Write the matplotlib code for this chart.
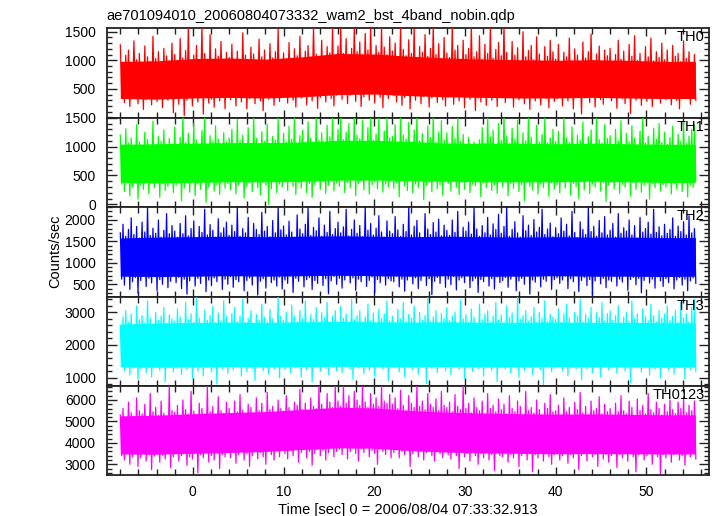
import numpy as np
import matplotlib
matplotlib.use("Agg")
import matplotlib.pyplot as plt
from matplotlib.ticker import MultipleLocator, FixedLocator

plt.rcParams['font.family'] = ['Liberation Sans', 'DejaVu Sans']

title = "ae701094010_20060804073332_wam2_bst_4band_nobin.qdp"
xlabel = "Time [sec] 0 = 2006/08/04 07:33:32.913"
ylabel = "Counts/sec"
band_names = ["TH0", "TH1", "TH2", "TH3", "TH0123"]
band_colors = ["#ff0000", "#00ff00", "#0000ff", "#00ffff", "#ff00ff"]

# each 0.3 s bin: a local maximum (peak) then a local minimum (dip), from t = -8 s
t_start, t_step = -8.0, 0.3
core_t = [-8, -4, 0, 4, 8, 12, 16, 20, 24, 28, 32, 36, 40, 44, 48, 52, 55.4]

# ---------------- TH0 ----------------
th0_peak = [
    1270, 960, 1090, 1180, 920, 1340, 1010, 1120, 940, 1250, 1060, 980, 1420, 1030, 1150, 900, 1210, 1080, 990, 1300,
    1100, 950, 1380, 1040, 1170, 1600, 990, 1090, 1260, 930, 1600, 1120, 1020, 1450, 980, 1200, 1070, 1330, 960, 1140,
    1050, 1280, 970, 1160, 1010, 1480, 1090, 940, 1230, 1110, 1000, 1370, 1060, 1180, 920, 1290, 1040, 1150, 1550, 990,
    1130, 1020, 1310, 960, 1200, 1080, 1420, 1000, 1160, 1260, 1050, 1600, 1110, 990, 1350, 1070, 1240, 1130, 1600, 1040,
    1250, 1600, 1120, 1380, 1060, 1210, 1600, 1150, 1320, 1090, 1470, 1180, 1600, 1040, 1260, 1140, 1600, 1230, 1100, 1410,
    1160, 1300, 1050, 1600, 1190, 1080, 1360, 1120, 1600, 1010, 1240, 1140, 1450, 1070, 1210, 1600, 1100, 1290, 1030, 1400,
    1130, 1050, 1600, 1180, 1260, 990, 1350, 1100, 1210, 1600, 1060, 1150, 1430, 1020, 1280, 1120, 1600, 1040, 1190, 1310,
    1080, 1600, 1140, 1000, 1330, 1090, 1220, 970, 1500, 1060, 1170, 1260, 1010, 1410, 1110, 980, 1240, 1070, 1350, 1150,
    1020, 1280, 960, 1140, 1060, 1390, 990, 1200, 1090, 940, 1320, 1040, 1150, 1460, 1000, 1110, 1250, 970, 1180, 1080,
    1210, 980, 1100, 1350, 1020, 1160, 940, 1280, 1070, 1430, 1000, 1120, 960, 1240, 1060, 1390, 990, 1150, 1050, 1300,
    1010, 1180, 940, 1260, 1070, 1120, 980, 1340, 1030, 1150, 960, 1100]
th0_dip = [
    380, 260, 420, 190, 330, 450, 240, 370, 140, 310, 400, 220, 350, 280, 430, 170, 360, 300, 410, 80,
    340, 230, 410, 30, 300, 380, 200, 440, 270, 350, 60, 390, 250, 320, 180, 420, 290, 360, 150, 400,
    310, 420, 200, 360, 270, 440, 150, 330, 390, 240, 410, 290, 120, 370, 320, 430, 210, 350, 280, 400,
    360, 250, 430, 300, 180, 410, 340, 460, 220, 380, 290, 440, 160, 350, 410, 270, 450, 330, 200, 390,
    430, 320, 470, 240, 390, 450, 280, 420, 190, 360, 480, 300, 410, 250, 440, 350, 170, 400, 330, 460,
    380, 270, 440, 210, 350, 410, 150, 390, 300, 450, 240, 370, 420, 180, 340, 400, 260, 430, 310, 200,
    350, 410, 230, 380, 290, 440, 170, 360, 320, 400, 120, 340, 270, 420, 210, 380, 300, 450, 190, 360,
    400, 260, 350, 430, 180, 370, 310, 420, 240, 390, 140, 360, 290, 410, 220, 380, 330, 170, 400, 280,
    330, 410, 200, 370, 290, 430, 150, 350, 390, 60, 340, 420, 260, 380, 180, 400, 310, 230, 370, 420,
    290, 380, 160, 410, 330, 240, 400, 70, 350, 300, 430, 210, 370, 280, 410, 190, 340, 390, 250, 360,
    310, 400, 220, 370, 290, 150, 380, 340, 410, 230, 360, 300]
th0_core_lo = [330, 320, 340, 350, 340, 360, 400, 410, 380, 360, 350, 340, 340, 350, 340, 330, 330]
th0_core_hi = [980, 990, 1030, 1040, 1020, 1060, 1120, 1110, 1070, 1040, 1020, 1010, 1000, 1010, 1000, 980, 980]

# ---------------- TH1 ----------------
th1_peak = [
    1200, 990, 1310, 1060, 1150, 940, 1380, 1080, 1000, 1250, 1120, 970, 1440, 1030, 1180, 1090, 1290, 960, 1140, 1050,
    1340, 1020, 1160, 1550, 1070, 1230, 980, 1400, 1110, 1040, 1280, 1550, 1000, 1190, 1090, 1360, 1130, 990, 1240, 1080,
    1150, 1300, 1010, 1470, 1100, 1200, 960, 1330, 1060, 1550, 1140, 1020, 1260, 1090, 1390, 1000, 1180, 1110, 1500, 1040,
    1230, 1070, 1350, 1130, 1550, 1020, 1190, 1280, 1080, 1430, 1150, 1000, 1550, 1110, 1240, 1060, 1370, 1170, 1550, 1090,
    1300, 1550, 1120, 1250, 1400, 1080, 1550, 1200, 1140, 1460, 1060, 1330, 1550, 1110, 1220, 1490, 1090, 1270, 1550, 1150,
    1180, 1380, 1070, 1550, 1200, 1130, 1420, 1040, 1290, 1550, 1100, 1230, 1010, 1360, 1160, 1550, 1080, 1250, 1450, 1120,
    1240, 1050, 1350, 1140, 1550, 1090, 1210, 1030, 1160, 1000, 1080, 990, 1120, 1330, 1060, 1550, 1170, 1280, 1040, 1400,
    1110, 1550, 1190, 1050, 1320, 1130, 1460, 1020, 1240, 1100, 1550, 1160, 1000, 1370, 1080, 1210, 1490, 1060, 1150, 1300,
    1090, 1260, 1020, 1550, 1150, 1070, 1340, 980, 1200, 1110, 1420, 1040, 1170, 1290, 1000, 1550, 1120, 1060, 1380, 1140,
    1190, 1030, 1300, 1100, 1450, 990, 1230, 1080, 1360, 1150, 1020, 1270, 1550, 1060, 1180, 1010, 1320, 1130, 1400, 1070,
    1250, 1040, 1160, 1350, 1000, 1210, 1090, 1430, 1060, 1180, 1300, 1380]
th1_dip = [
    350, 220, 410, 150, 300, 440, 90, 330, 260, 400, 180, 370, 290, 430, 120, 360, 240, 310, 420, 200,
    330, 410, 60, 280, 380, 210, 440, 150, 350, 260, 420, 30, 300, 390, 230, 340, 170, 410, 280, 360,
    250, 400, 180, 340, 430, 110, 310, 370, 220, 420, 290, 160, 380, 330, 0, 270, 410, 200, 350, 300,
    390, 240, 430, 310, 170, 380, 280, 450, 200, 360, 120, 340, 410, 260, 390, 190, 330, 440, 230, 370,
    310, 420, 200, 380, 290, 440, 150, 360, 400, 250, 430, 180, 340, 390, 270, 450, 210, 350, 300, 410,
    280, 370, 130, 400, 320, 240, 430, 190, 350, 290, 410, 80, 330, 380, 220, 420, 270, 340, 160, 390,
    360, 230, 410, 300, 170, 380, 260, 440, 200, 350, 320, 400, 130, 370, 290, 430, 240, 340, 190, 400,
    300, 390, 150, 360, 280, 420, 220, 340, 60, 380, 310, 250, 410, 180, 350, 290, 430, 140, 370, 260,
    340, 200, 400, 280, 430, 160, 360, 310, 100, 390, 250, 420, 190, 350, 300, 410, 230, 370, 50, 330,
    380, 270, 420, 190, 350, 300, 440, 140, 370, 260, 400, 210, 330, 390, 90, 360, 290, 420, 230, 340,
    300, 400, 180, 350, 270, 420, 220, 380, 130, 340, 290, 400]
th1_core_lo = [380, 370, 380, 390, 390, 400, 420, 420, 410, 400, 390, 390, 390, 400, 390, 380, 380]
th1_core_hi = [1040, 1050, 1060, 1070, 1070, 1080, 1110, 1110, 1090, 1060, 1060, 1060, 1050, 1060, 1050, 1040, 1040]

# ---------------- TH2 ----------------
th2_peak = [
    1700, 1900, 1620, 1780, 2050, 1660, 1850, 1580, 1950, 1720, 2300, 1640, 1810, 1690, 2000, 1600, 1760, 2150, 1680, 1870,
    1740, 1600, 1920, 1680, 2100, 1630, 1800, 1980, 1570, 1850, 1710, 2250, 1650, 1890, 1760, 1600, 2030, 1700, 1820, 1950,
    1640, 1880, 1730, 2300, 1620, 1800, 1700, 2060, 1590, 1920, 1780, 1660, 2180, 1740, 1850, 1610, 1990, 1700, 2300, 1770,
    1860, 1650, 1970, 1720, 1600, 2120, 1790, 1680, 1900, 2300, 1640, 1830, 1750, 2050, 1620, 1880, 1710, 2200, 1660, 1800,
    1950, 1700, 1840, 2250, 1630, 1780, 2000, 1690, 1870, 1610, 2300, 1760, 1920, 1650, 1810, 2100, 1720, 1600, 1980, 1740,
    1680, 2080, 1770, 1620, 1900, 1730, 2300, 1650, 1850, 1990, 1700, 1580, 2150, 1790, 1660, 1940, 1720, 2020, 1630, 1880,
    1760, 1640, 2000, 1710, 2200, 1600, 1830, 1740, 1950, 1670, 2300, 1790, 1620, 1870, 1700, 2060, 1650, 1910, 1780, 2130,
    1690, 1850, 2300, 1620, 1780, 1960, 1700, 1600, 2100, 1750, 1880, 1640, 2010, 1720, 1830, 2250, 1660, 1790, 1930, 1610,
    1820, 1680, 2050, 1740, 1900, 1630, 2200, 1710, 1590, 1960, 1780, 1660, 2300, 1730, 1850, 1620, 1990, 1700, 2080, 1650,
    1760, 1920, 1600, 2150, 1690, 1820, 1740, 2000, 1650, 1870, 1580, 2060, 1720, 1800, 1950, 1670, 2250, 1710, 1840, 1630,
    1900, 1690, 1780, 2050, 1620, 1860, 1730, 1960, 1650, 2100, 1700, 1800]
th2_dip = [
    620, 480, 700, 380, 560, 660, 300, 590, 720, 450, 640, 530, 690, 350, 610, 500, 680, 420, 570, 710,
    540, 660, 400, 620, 270, 580, 700, 460, 640, 520, 690, 330, 600, 470, 650, 560, 710, 380, 620, 500,
    680, 430, 610, 560, 720, 350, 590, 650, 480, 700, 250, 570, 630, 410, 690, 540, 600, 460, 670, 390,
    600, 520, 690, 310, 640, 570, 700, 440, 610, 660, 380, 590, 520, 710, 470, 630, 280, 580, 680, 500,
    640, 410, 600, 700, 530, 650, 360, 620, 560, 720, 450, 590, 670, 300, 610, 540, 690, 480, 630, 580,
    560, 690, 440, 620, 340, 600, 680, 510, 650, 400, 590, 710, 470, 630, 260, 570, 660, 520, 700, 430,
    620, 490, 680, 370, 600, 650, 540, 710, 420, 580, 640, 310, 610, 560, 690, 460, 630, 390, 670, 540,
    590, 660, 430, 620, 700, 350, 580, 640, 500, 690, 270, 600, 550, 680, 440, 620, 570, 710, 380, 610,
    650, 520, 600, 690, 400, 630, 560, 720, 330, 590, 660, 470, 610, 250, 580, 680, 510, 640, 420, 600,
    570, 680, 460, 620, 550, 700, 360, 610, 660, 490, 640, 300, 590, 690, 530, 620, 410, 670, 580, 450,
    630, 540, 690, 390, 600, 660, 480, 620, 350, 580, 650, 520]
th2_core_lo = [690, 680, 690, 700, 690, 700, 710, 700, 690, 700, 690, 690, 700, 690, 690, 680, 690]
th2_core_hi = [1580, 1600, 1610, 1620, 1610, 1620, 1630, 1620, 1610, 1620, 1610, 1600, 1610, 1600, 1600, 1590, 1590]

# ---------------- TH3 ----------------
th3_peak = [
    2600, 2850, 3050, 2700, 2950, 2620, 3200, 2780, 2900, 2680, 3350, 2820, 2590, 3000, 2750, 2880, 3150, 2660, 2920, 2800,
    2720, 3100, 2850, 2640, 3300, 2780, 2950, 2700, 3450, 2830, 2610, 3050, 2760, 2900, 3200, 2680, 2980, 2740, 3350, 2870,
    2650, 2960, 3150, 2720, 2880, 3400, 2690, 2810, 3050, 2630, 2930, 2770, 3250, 2850, 2700, 3100, 2800, 2580, 3480, 2890,
    2760, 3000, 2640, 3220, 2870, 2720, 3050, 2800, 3350, 2670, 2930, 2780, 3150, 2600, 2990, 2840, 3300, 2710, 2880, 3050,
    2700, 3180, 2820, 2950, 2650, 3400, 2780, 2900, 3050, 2690, 2860, 3250, 2740, 2980, 2620, 3100, 2810, 2950, 3350, 2730,
    2880, 2680, 3100, 2790, 3300, 2710, 2940, 2820, 3200, 2650, 3000, 2770, 2900, 3450, 2720, 2850, 3050, 2600, 2960, 2800,
    3150, 2740, 2880, 3000, 2660, 3380, 2800, 2930, 2700, 3100, 2850, 2620, 3250, 2780, 2950, 3050, 2690, 2870, 3300, 2760,
    2920, 2700, 3200, 2840, 2980, 2650, 3480, 2790, 2900, 3050, 2730, 2860, 3150, 2680, 3000, 2810, 3350, 2720, 2940, 2850,
    2780, 3100, 2690, 2950, 3250, 2820, 2640, 3000, 2880, 3400, 2710, 2930, 2800, 3150, 2670, 2990, 2850, 3300, 2730, 2960,
    3050, 2760, 2900, 3200, 2680, 2850, 3000, 2720, 3350, 2800, 2950, 2650, 3100, 2870, 2740, 3250, 2900, 2700, 3050, 2820,
    2940, 3200, 2750, 2880, 3050, 2690, 3300, 2830, 2960, 2720, 3150, 3400]
th3_dip = [
    1350, 1200, 1430, 1080, 1300, 1400, 950, 1280, 1450, 1150, 1370, 1020, 1320, 1420, 1230, 1380, 880, 1310, 1440, 1180,
    1290, 1410, 1100, 1360, 1250, 1450, 980, 1330, 1200, 1400, 1060, 1350, 1440, 1170, 1300, 800, 1380, 1260, 1420, 1130,
    1400, 1240, 1330, 1450, 1050, 1370, 1180, 1420, 1290, 920, 1350, 1430, 1220, 1310, 1110, 1400, 1270, 1460, 1000, 1340,
    1260, 1430, 1140, 1380, 1300, 1450, 1020, 1350, 1240, 1410, 870, 1330, 1440, 1190, 1370, 1280, 1090, 1420, 1310, 1200,
    1390, 1150, 1340, 1440, 1260, 960, 1380, 1300, 1460, 1120, 1350, 1230, 1420, 1040, 1330, 1400, 1270, 1450, 900, 1360,
    1300, 1420, 1180, 1370, 1030, 1340, 1450, 1240, 1390, 1110, 1320, 1430, 820, 1360, 1280, 1410, 1160, 1350, 1440, 1210,
    1380, 1090, 1330, 1420, 1250, 1370, 970, 1310, 1450, 1190, 1350, 1270, 1400, 1050, 1340, 1430, 1230, 1380, 880, 1320,
    1410, 1270, 1360, 1140, 1440, 1300, 1010, 1380, 1220, 1420, 1330, 1100, 1390, 1450, 1250, 780, 1350, 1410, 1180, 1300,
    1340, 1440, 1200, 1370, 1060, 1310, 1420, 1260, 1390, 940, 1350, 1280, 1430, 1150, 1360, 1400, 1020, 1330, 1450, 1240,
    1290, 1400, 1130, 1360, 1440, 1210, 1350, 850, 1380, 1300, 1420, 1170, 1340, 1450, 1080, 1370, 1260, 1410, 990, 1330,
    1390, 1230, 1430, 1110, 1350, 1300, 1440, 960, 1370, 1250, 1410, 1180]
th3_core_lo = [1330, 1320, 1330, 1340, 1330, 1340, 1350, 1340, 1330, 1340, 1330, 1330, 1340, 1330, 1330, 1320, 1330]
th3_core_hi = [2640, 2670, 2690, 2700, 2690, 2710, 2720, 2710, 2700, 2710, 2690, 2690, 2700, 2690, 2690, 2680, 2680]

# ---------------- TH0123 ----------------
th0123_peak = [
    5300, 5600, 5150, 5900, 5400, 5250, 6100, 5500, 5350, 5800, 5200, 6300, 5450, 5650, 5280, 5950, 5380, 5150, 6650, 5500,
    5420, 5750, 5250, 6000, 5550, 5320, 6400, 5480, 5200, 5850, 5600, 5350, 6650, 5450, 5700, 5300, 6150, 5500, 5380, 5900,
    5600, 5350, 5950, 5450, 6250, 5520, 5300, 5800, 5650, 5400, 6100, 5500, 5850, 5280, 6350, 5550, 5700, 5420, 6000, 5600,
    5480, 6200, 5650, 5400, 5900, 5750, 6500, 5550, 5850, 5450, 6100, 5700, 5600, 6650, 5800, 5500, 6300, 5900, 5650, 6650,
    5950, 5700, 6650, 5850, 6200, 5600, 6400, 6000, 5750, 6650, 5900, 5650, 6300, 5800, 6100, 5700, 6650, 5950, 5850, 6250,
    5800, 6100, 5600, 6450, 5750, 5500, 6200, 5850, 5650, 6650, 5700, 5950, 5550, 6300, 5800, 5650, 6050, 5500, 6400, 5750,
    5650, 5900, 5450, 6250, 5700, 5550, 6650, 5600, 5850, 5400, 6100, 5650, 5500, 5950, 5350, 6300, 5600, 5750, 5450, 6050,
    5550, 5800, 5350, 6200, 5600, 5450, 5950, 5700, 5300, 6400, 5500, 5650, 5400, 6000, 5550, 5300, 5850, 5600, 6250, 5450,
    5500, 5750, 5300, 6100, 5450, 5650, 5250, 5900, 5550, 6350, 5400, 5700, 5300, 5950, 5500, 5600, 6150, 5350, 5800, 5450,
    5600, 5300, 5850, 5450, 6200, 5500, 5350, 5950, 5650, 5250, 6050, 5500, 5750, 5350, 6300, 5550, 5400, 5900, 5600, 5300,
    5800, 5450, 6000, 5550, 5350, 5900, 5600, 6150, 5400, 5750, 5500, 5950]
th0123_dip = [
    3400, 3200, 3550, 3000, 3350, 3500, 2900, 3300, 3600, 3150, 3450, 2750, 3380, 3520, 3100, 3420, 3250, 3580, 2850, 3350,
    3500, 3150, 3400, 3600, 2950, 3350, 3250, 3550, 2600, 3450, 3300, 3600, 3100, 3400, 3200, 3550, 2800, 3450, 3350, 3600,
    3300, 3550, 3050, 3450, 3650, 3200, 3500, 2900, 3400, 3600, 3250, 3550, 3350, 3000, 3650, 3450, 3200, 3600, 3350, 3700,
    3500, 3250, 3650, 3400, 3750, 3100, 3550, 3700, 3300, 3600, 2950, 3500, 3700, 3400, 3650, 3200, 3550, 3750, 3350, 3600,
    3700, 3450, 3800, 3250, 3600, 3750, 3500, 3150, 3700, 3550, 3800, 3350, 3650, 3500, 3000, 3700, 3600, 3450, 3750, 3300,
    3550, 3700, 3300, 3600, 3450, 3750, 2900, 3500, 3650, 3350, 3600, 3200, 3550, 3700, 3400, 3150, 3600, 3500, 3300, 3650,
    3450, 3250, 3600, 3400, 2800, 3550, 3350, 3500, 3150, 3600, 3400, 3000, 3500, 3300, 3600, 3200, 3450, 2700, 3550, 3400,
    3350, 3550, 3100, 3450, 3300, 3600, 2900, 3400, 3500, 3200, 3550, 2650, 3450, 3300, 3600, 3150, 3500, 3350, 3000, 3450,
    3550, 3200, 3400, 3600, 3050, 3450, 3300, 3550, 2750, 3400, 3500, 3150, 3600, 3350, 3450, 2900, 3550, 3250, 3450, 3100,
    3400, 3550, 2850, 3450, 3300, 3600, 3150, 3500, 3350, 2650, 3450, 3550, 3200, 3400, 3600, 3000, 3500, 3350, 2550, 3450,
    3300, 3550, 3100, 3450, 3600, 3200, 3400, 2950, 3500, 3350, 3550, 3250]
th0123_core_lo = [3480, 3470, 3510, 3550, 3600, 3690, 3770, 3750, 3640, 3570, 3530, 3510, 3490, 3500, 3490, 3480, 3480]
th0123_core_hi = [5260, 5290, 5360, 5410, 5460, 5560, 5660, 5630, 5510, 5430, 5390, 5360, 5340, 5350, 5330, 5310, 5310]

peaks = [th0_peak, th1_peak, th2_peak, th3_peak, th0123_peak]
dips = [th0_dip, th1_dip, th2_dip, th3_dip, th0123_dip]
cores_lo = [th0_core_lo, th1_core_lo, th2_core_lo, th3_core_lo, th0123_core_lo]
cores_hi = [th0_core_hi, th1_core_hi, th2_core_hi, th3_core_hi, th0123_core_hi]

# axis settings
ylims = [(-2, 1565), (-47, 1505), (215, 2303), (746, 3483), (2477, 6653)]
ymajor = [[500, 1000, 1500], [0, 500, 1000, 1500], [500, 1000, 1500, 2000],
          [1000, 2000, 3000], [3000, 4000, 5000, 6000]]
yminor = [100, 100, 100, 200, 200]

fig = plt.figure(figsize=(7.17, 5.16), dpi=100)
axes = fig.subplots(5, 1, sharex=True)
fig.subplots_adjust(left=0.1492, right=0.9888, top=0.9457, bottom=0.0785, hspace=0)

for i, ax in enumerate(axes):
    col = band_colors[i]
    n = min(len(peaks[i]), len(dips[i]))
    tb = t_start + t_step * np.arange(n)
    x = np.empty(2 * n)
    y = np.empty(2 * n)
    x[0::2] = tb
    x[1::2] = tb + t_step / 2
    y[0::2] = peaks[i][:n]
    y[1::2] = dips[i][:n]
    ax.fill_between(core_t, cores_lo[i], cores_hi[i], color=col, lw=0, zorder=2)
    ax.plot(x, y, color=col, lw=0.9, zorder=3)
    ax.set_ylim(*ylims[i])
    ax.set_xlim(-9.47, 56.9)
    ax.yaxis.set_major_locator(FixedLocator(ymajor[i]))
    ax.yaxis.set_minor_locator(MultipleLocator(yminor[i]))
    ax.xaxis.set_major_locator(MultipleLocator(10))
    ax.xaxis.set_minor_locator(MultipleLocator(2))
    ax.tick_params(which='both', direction='in', top=True, right=True,
                   labelsize=10, color='#222222', width=1.0)
    ax.tick_params(axis='y', which='major', length=7, pad=8)
    ax.tick_params(axis='y', which='minor', length=3.5)
    ax.tick_params(axis='x', which='major', length=6, pad=7)
    ax.tick_params(axis='x', which='minor', length=4)
    for s in ax.spines.values():
        s.set_linewidth(1.3)
        s.set_color('#222222')
    ax.text(0.993, 0.975, band_names[i], transform=ax.transAxes, ha='right', va='top',
            fontsize=10.5, zorder=5)

axes[-1].set_xlabel(xlabel, fontsize=10.5, labelpad=3)
fig.text(0.149, 1 - 20 / 516, title, fontsize=10.5, ha='left', va='baseline')
fig.text(0.077, 0.513, ylabel, fontsize=10.5, rotation=90, ha='center', va='center')

fig.savefig("out.png", dpi=100)
